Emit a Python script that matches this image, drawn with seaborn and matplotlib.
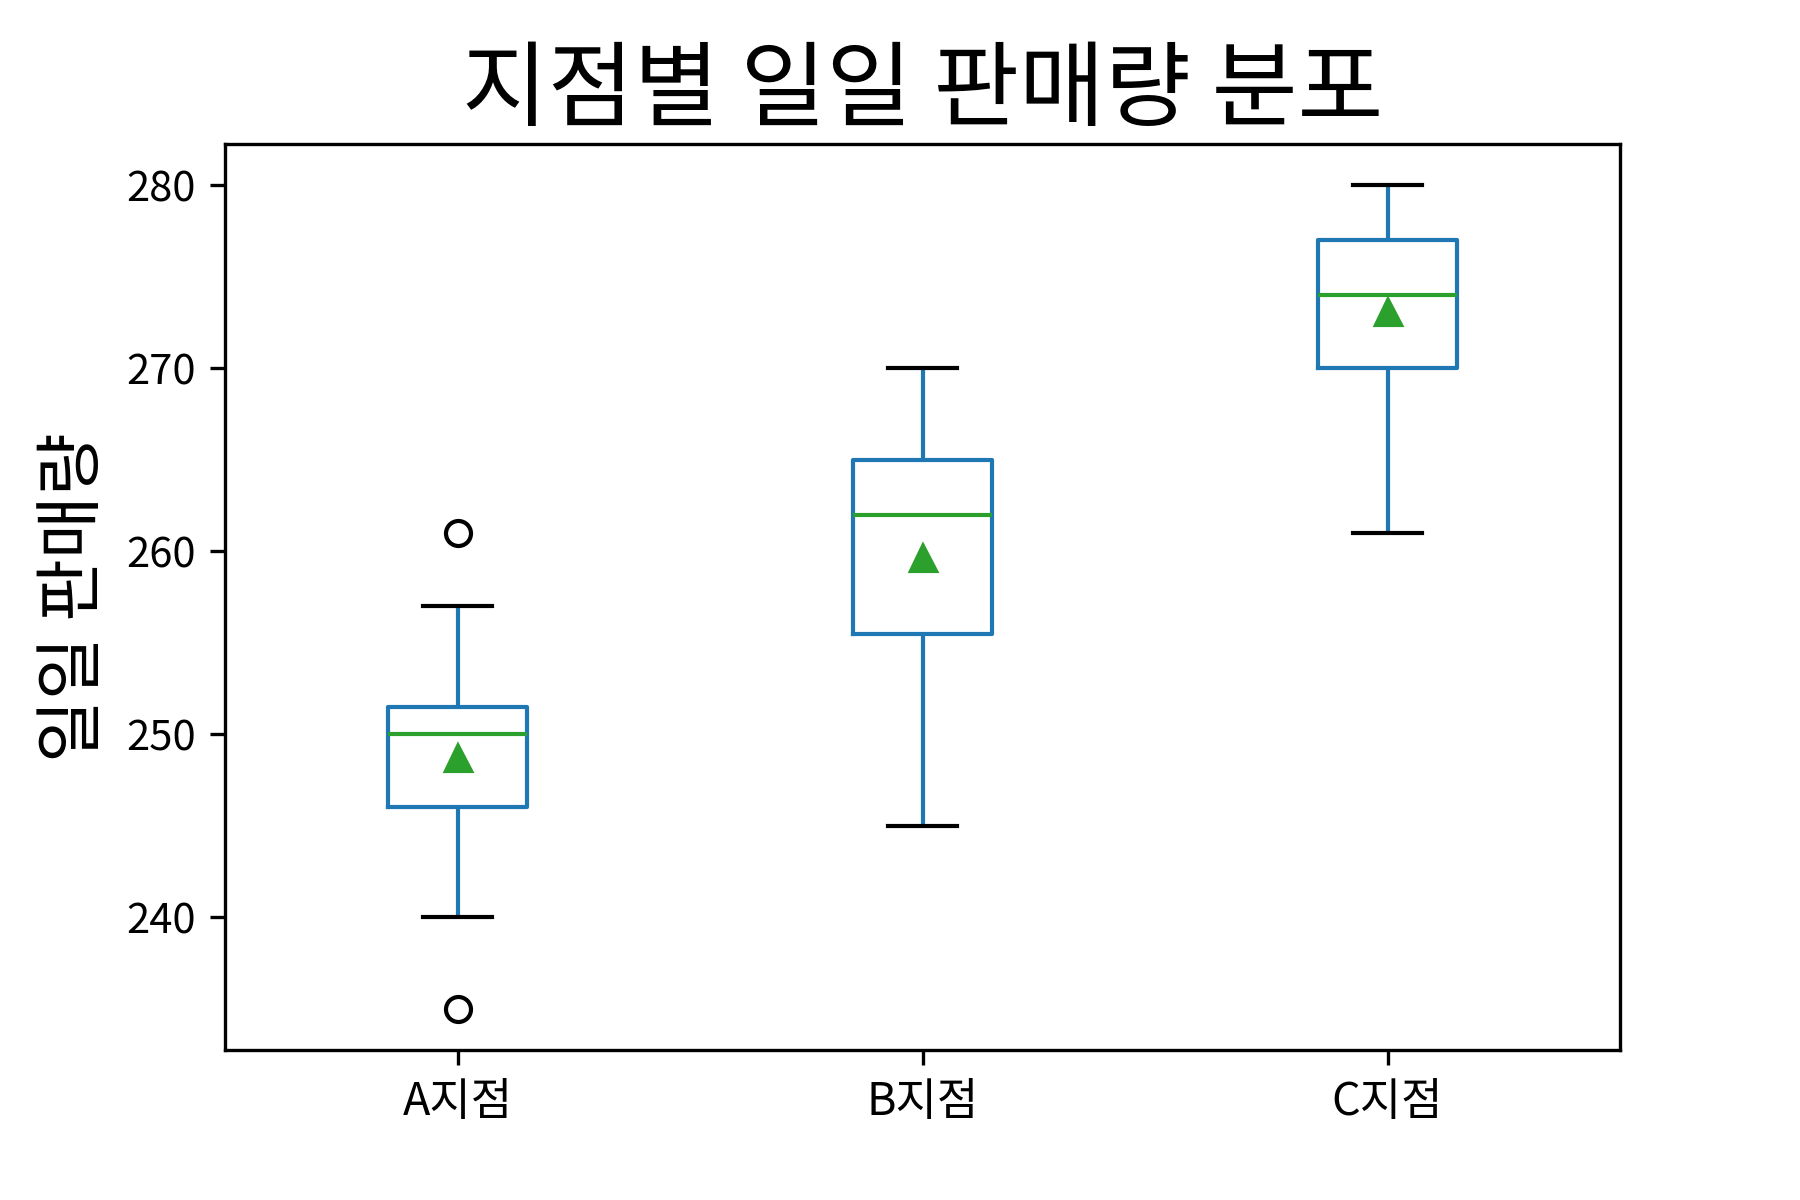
import matplotlib
matplotlib.use("Agg")
import matplotlib.pyplot as plt
import seaborn as sns
import pandas as pd

# ---- data ----
stores = ["A지점", "B지점", "C지점"]
sales_a = [235, 240, 246, 246, 247, 250, 251, 251, 252, 257, 261]
sales_b = [245, 248, 255, 256, 259, 262, 263, 265, 265, 268, 270]
sales_c = [261, 268, 270, 270, 273, 274, 275, 277, 277, 279, 280]

title = "지점별 일일 판매량 분포"
ylabel = "일일 판매량"

df = pd.DataFrame({
    "store": [stores[0]] * len(sales_a) + [stores[1]] * len(sales_b) + [stores[2]] * len(sales_c),
    "sales": sales_a + sales_b + sales_c,
})

plt.rcParams["font.family"] = ["Noto Sans CJK KR", "DejaVu Sans"]

fig, ax = plt.subplots(figsize=(6, 4), dpi=300)
fig.subplots_adjust(left=0.125, right=0.9, top=0.88, bottom=0.125)

blue = "#1f77b4"
green = "#2ca02c"

sns.boxplot(
    data=df, x="store", y="sales", order=stores,
    width=0.3, fill=False, color=blue, linewidth=1,
    showmeans=True,
    boxprops=dict(color=blue, linewidth=1),
    whiskerprops=dict(color=blue, linewidth=1),
    capprops=dict(color="black", linewidth=1),
    medianprops=dict(color=green, linewidth=1),
    flierprops=dict(marker="o", markerfacecolor="none", markeredgecolor="black",
                    markersize=6, markeredgewidth=1),
    meanprops=dict(marker="^", markerfacecolor=green, markeredgecolor=green, markersize=6),
    ax=ax,
)

ax.set_title(title, fontsize=22.4)
ax.set_ylabel(ylabel, fontsize=16.4)
ax.set_xlabel("")
ax.set_yticks([240, 250, 260, 270, 280])
ax.tick_params(axis="y", labelsize=10)
ax.tick_params(axis="x", labelsize=10.8)
for s in ax.spines.values():
    s.set_visible(True)
    s.set_color("black")

fig.savefig("out.png", dpi=300)
